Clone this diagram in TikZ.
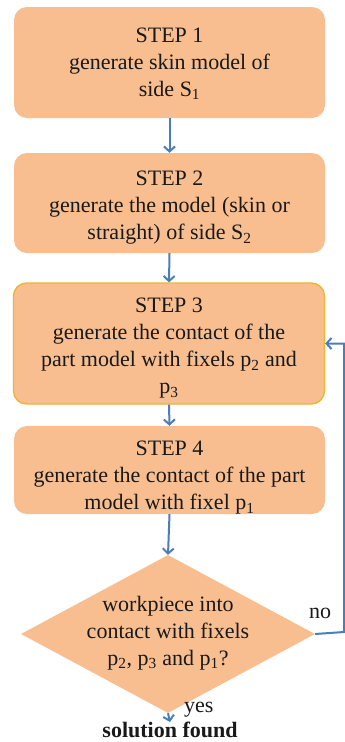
\documentclass[tikz,border=0pt]{standalone}
\usepackage{fontspec}
\setmainfont{Liberation Serif}
\usetikzlibrary{shapes.geometric,arrows.meta}
\definecolor{boxfill}{RGB}{249,190,143}
\definecolor{arrowblue}{RGB}{74,126,187}
\definecolor{goldline}{RGB}{236,180,50}
\definecolor{txt}{RGB}{25,25,25}
\begin{document}
\begin{tikzpicture}[x=1pt,y=1pt,
  stepbox/.style={draw=none, fill=boxfill, rounded corners=13pt, minimum width=311pt, inner sep=0pt},
  steptext/.style={align=center, text=txt, font=\fontsize{22}{27}\selectfont, inner sep=0pt},
  conn/.style={draw=arrowblue, line width=2pt, -{Straight Barb[length=5pt,width=11pt]}},
  lbl/.style={text=txt, font=\fontsize{22}{26}\selectfont, inner sep=0pt}]
\useasboundingbox (0,0) rectangle (345,-742);
\fill[white] (0,0) rectangle (345,-742);

\node[stepbox, minimum height=111pt] (b1) at (169.5,-62.5) {};
\node[steptext] (t1) at ([yshift=-1pt]b1.center)
  {STEP 1\\generate skin model of\\side S\textsubscript{1}};
\node[stepbox, minimum height=100pt] (b2) at (169.5,-203) {};
\node[steptext] (t2) at ([yshift=-5pt]b2.center)
  {STEP 2\\generate the model (skin or\\straight) of side S\textsubscript{2}};
\node[stepbox, minimum height=121pt, draw=goldline, line width=1.3pt] (b3) at (169,-343.5) {};
\node[steptext] (t3) at ([yshift=-5pt]b3.center)
  {STEP 3\\generate the contact of the\\part model with fixels p\textsubscript{2} and\\p\textsubscript{3}};
\node[stepbox, minimum height=88pt] (b4) at (169.5,-470) {};
\node[steptext] (t4) at ([yshift=-8pt]b4.center)
  {STEP 4\\generate the contact of the part\\model with fixel p\textsubscript{1}};
\node[diamond, fill=boxfill, minimum width=294pt, minimum height=158pt, inner sep=0pt] (d) at (168,-634) {};
\node[steptext] (dt) at ([yshift=1pt]d.center)
  {workpiece into\\contact with fixels\\p\textsubscript{2}, p\textsubscript{3} and p\textsubscript{1}?};
\node[lbl, font=\bfseries\fontsize{22}{26}\selectfont, anchor=north] (sol) at (170,-722) {solution found};
\node[lbl, anchor=west] (yes) at (184,-710) {yes};
\node[lbl] (no) at (320,-613) {no};
\coordinate (c1) at (344,-632);

\draw[conn] (b1.south) -- (b2.north);
\draw[conn] (b2.south) -- (b3.north);
\draw[conn] (b3.south) -- (b4.north);
\draw[conn] (b4.south) -- (d.north);
\draw[conn] (d.south) -- (sol.north);
\draw[conn] (d.east) -- (c1) -- (c1 |- b3.east) -- (b3.east);
\end{tikzpicture}
\end{document}
